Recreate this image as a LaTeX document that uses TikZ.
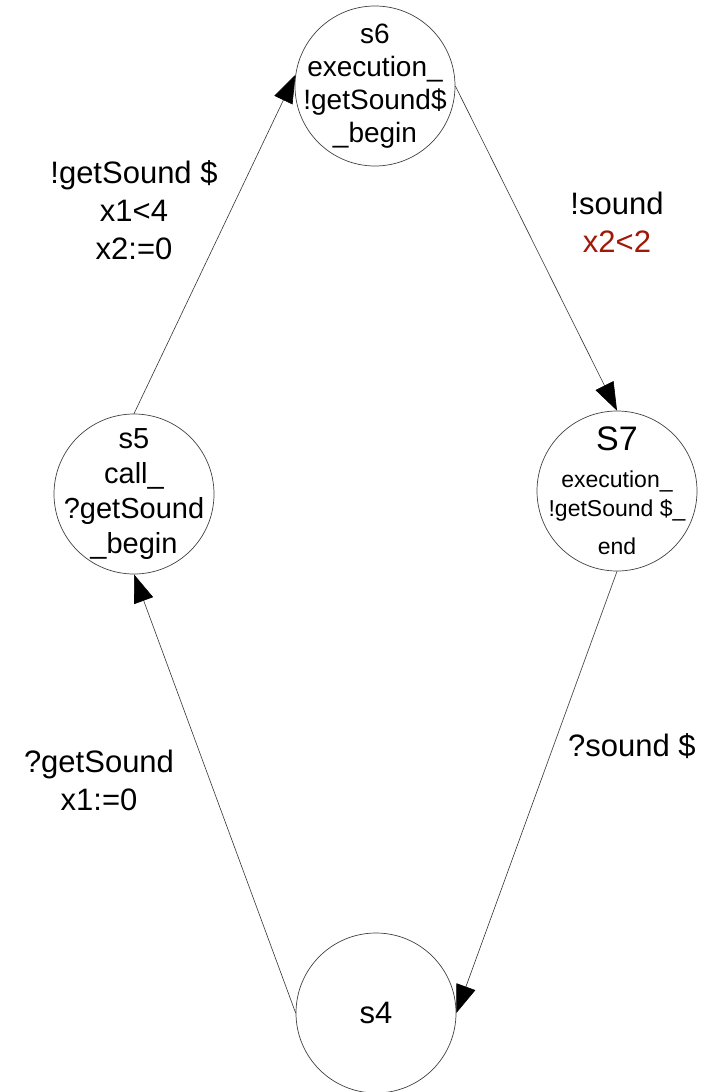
\documentclass[tikz,border=0pt]{standalone}
\usepackage{fontspec}
\setmainfont{Liberation Sans}
\usetikzlibrary{arrows.meta,shapes,positioning}
\definecolor{guardred}{RGB}{160,24,8}

\begin{document}
\begin{tikzpicture}[x=1pt,y=-1pt,
state/.style={draw=black!75,circle,minimum size=160pt,inner sep=0pt,line width=0.7pt},
statetext/.style={align=center,inner sep=0pt},
trans/.style={draw=black!80,line width=0.6pt,-{Triangle[length=28pt,width=20pt,color=black]}},
guard/.style={align=center,font=\fontsize{31}{38}\selectfont}]
\useasboundingbox (0,0) rectangle (704,1092);
% states (circles first, the text may run over the rim)
\node (s6) [state] at (375,86) {};
\node (s5) [state] at (134,494) {};
\node (S7) [state] at (617,491) {};
\node (s4) [state] at (376,1013) {};
\node (s6txt) [statetext,font=\fontsize{28}{33}\selectfont] at (s6)
    {s6\\execution\_\\!getSound\$\\\_begin};
\node (s5txt) [statetext,font=\fontsize{29}{35}\selectfont] at (s5)
    {s5\\call\_\\?getSound\\\_begin};
\node (S7txt) [statetext,font=\fontsize{23}{29}\selectfont] at (S7)
    {{\fontsize{34}{38}\selectfont S7}\\[8pt]execution\_\\!getSound \$\_\\[9pt]end};
\node (s4txt) [statetext,font=\fontsize{31}{36}\selectfont] at (s4) {s4};
% transitions
\draw [trans] (s5.north) -- (s6.172);
\draw [trans] (s6.east) -- (S7.north);
\draw [trans] (S7.south) -- (s4.east);
\draw [trans] (s4.west) -- (s5.south);
% guards and actions
\node (lbl56) [guard] at (134,210) {!getSound \$\\x1<4\\x2:=0};
\node (lbl67) [guard] at (617,222) {!sound\\{\color{guardred}x2<2}};
\node (lbl74) [guard] at (632,746) {?sound \$};
\node (lbl45) [guard] at (99,780) {?getSound\\x1:=0};
\end{tikzpicture}
\end{document}
